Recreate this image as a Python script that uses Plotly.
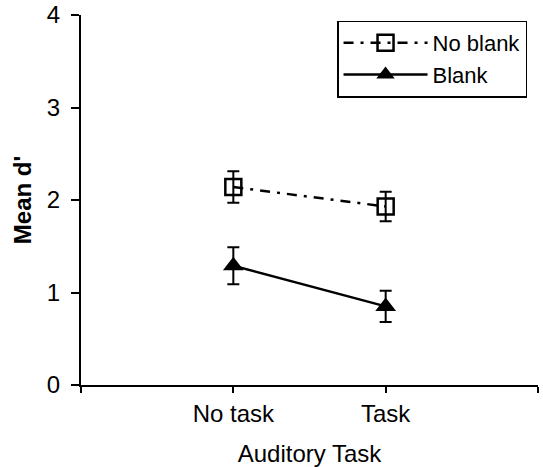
import plotly.graph_objects as go

categories = ["No task", "Task"]
no_blank = [2.14, 1.93]
no_blank_err = [0.17, 0.16]
blank = [1.29, 0.85]
blank_err = [0.20, 0.17]
y_ticks = [0, 1, 2, 3, 4]

xpos = [i + 1 for i in range(len(categories))]

FONT = "Liberation Sans, Arial, sans-serif"

fig = go.Figure()
fig.add_trace(go.Scatter(
    x=xpos, y=no_blank, name="No blank", mode="lines+markers",
    line=dict(color="black", width=2.5, dash="10px,7px,3px,7px"),
    marker=dict(symbol="square-open", size=16, color="black", line=dict(width=2.5)),
    error_y=dict(type="data", array=no_blank_err, color="black", thickness=2, width=6),
    cliponaxis=False,
))
fig.add_trace(go.Scatter(
    x=xpos, y=blank, name="Blank", mode="lines+markers",
    line=dict(color="black", width=2.5),
    marker=dict(symbol="triangle-up", size=18, color="black"),
    error_y=dict(type="data", array=blank_err, color="black", thickness=2, width=6),
    cliponaxis=False,
))

fig.update_layout(
    width=543, height=467,
    margin=dict(l=81, r=5, t=15, b=82),
    paper_bgcolor="white", plot_bgcolor="white",
    font=dict(family=FONT, size=24, color="black"),
    showlegend=True,
    legend=dict(
        x=0.976, y=0.985, xanchor="right", yanchor="top",
        bordercolor="black", borderwidth=1.5, bgcolor="white",
        font=dict(size=22), itemwidth=84, tracegroupgap=0,
    ),
    xaxis=dict(
        range=[0, 3], tickmode="array", tickvals=[0, 1, 2, 3],
        ticktext=[""] + categories + [""],
        showline=True, linecolor="black", linewidth=2,
        ticks="outside", ticklen=6, tickwidth=2, tickcolor="black",
        showgrid=False, zeroline=False, automargin=False,
        title=dict(text="Auditory Task", font=dict(size=24), standoff=19),
    ),
    yaxis=dict(
        range=[0, 4], tickmode="array", tickvals=y_ticks,
        showline=True, linecolor="black", linewidth=2,
        ticks="outside", ticklen=8, tickwidth=2, tickcolor="black",
        ticklabelstandoff=6,
        showgrid=False, zeroline=False, automargin=False,
        title=dict(text="<b>Mean d'</b>", font=dict(size=24), standoff=8),
    ),
)

fig.write_html(
    "out.html",
    config={"displayModeBar": False},
    post_script="document.body.style.margin='0';document.body.style.overflow='hidden';",
)
